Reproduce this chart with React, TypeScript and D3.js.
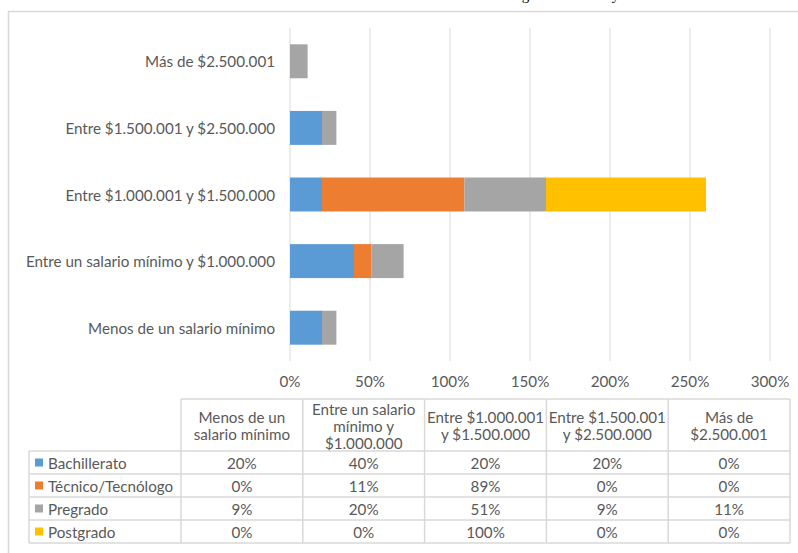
import React from 'react';
import * as d3 from 'd3';

const categories = [
  'Menos de un salario mínimo',
  'Entre un salario mínimo y $1.000.000',
  'Entre $1.000.001 y $1.500.000',
  'Entre $1.500.001 y $2.500.000',
  'Más de $2.500.001',
];
// header of the table, wrapped as in the picture
const headerLines = [
  ['Menos de un', 'salario mínimo'],
  ['Entre un salario', 'mínimo y', '$1.000.000'],
  ['Entre $1.000.001', 'y $1.500.000'],
  ['Entre $1.500.001', 'y $2.500.000'],
  ['Más de', '$2.500.001'],
];
const seriesNames = ['Bachillerato', 'Técnico/Tecnólogo', 'Pregrado', 'Postgrado'];
const seriesColors = ['#5B9BD5', '#ED7D31', '#A5A5A5', '#FFC000'];
const bachillerato = [20, 40, 20, 20, 0];
const tecnico = [0, 11, 89, 0, 0];
const pregrado = [9, 20, 51, 9, 11];
const postgrado = [0, 0, 100, 0, 0];
const xTicks = [0, 50, 100, 150, 200, 250, 300];

const font = 'Lato, "Open Sans", sans-serif';
const fs = 15.2;
const textColor = '#595959';
const lineColor = '#d9d9d9';

const App = () => {
  const series = [bachillerato, tecnico, pregrado, postgrado];
  const rows = categories.map((c, i) => {
    const r: any = { cat: c };
    seriesNames.forEach((s, j) => (r[s] = series[j][i]));
    return r;
  });
  const stacked = d3.stack().keys(seriesNames)(rows);

  const x = d3.scaleLinear().domain([0, 300]).range([290, 770]);
  const y = d3.scaleBand()
    .domain(categories.slice().reverse())
    .range([28, 361])
    .paddingInner(0.49)
    .paddingOuter(0.245);

  // table
  const col = d3.scaleBand().domain(categories).range([181, 790]);
  const tableTop = 399;
  const headerBottom = 451;
  const row = d3.scaleBand().domain(seriesNames).range([headerBottom, 543]);
  const legendLeft = 29;

  return (
    <svg width={798} height={553} style={{ position: 'absolute', left: 0, top: 0, background: '#fff' }}>
      <rect x={0} y={0} width={798} height={553} fill="#fff" />
      {/* title, cut off at the top of the picture */}
      <text x={455} y={0} fontFamily='"Liberation Serif", serif' fontSize={15} fill="#000">
        Nivel de ingreso mensual y nivel educativo
      </text>
      <rect x={8.5} y={11.5} width={800} height={560} fill="none" stroke={lineColor} strokeWidth={1.5} />

      {/* grid */}
      {xTicks.map(t => (
        <g key={t}>
          <line x1={x(t)} x2={x(t)} y1={28} y2={361} stroke={lineColor} strokeWidth={1} />
          <text x={x(t)} y={381} textAnchor="middle" dominantBaseline="central"
            fontFamily={font} fontSize={fs} fill={textColor}>{t}%</text>
        </g>
      ))}

      {/* bars */}
      {stacked.map((s, j) => (
        <g key={s.key} fill={seriesColors[j]}>
          {s.map((d: any) => (
            <rect key={d.data.cat} x={x(d[0])} y={y(d.data.cat)} width={x(d[1]) - x(d[0])} height={y.bandwidth()} />
          ))}
        </g>
      ))}

      {/* category labels */}
      {categories.map(c => (
        <text key={c} x={275} y={(y(c) as number) + y.bandwidth() / 2} textAnchor="end" dominantBaseline="central"
          fontFamily={font} fontSize={fs} fill={textColor}>{c}</text>
      ))}

      {/* data table */}
      <g stroke={lineColor} strokeWidth={1.5} fill="none">
        <line x1={181} x2={790} y1={tableTop} y2={tableTop} />
        <line x1={legendLeft} x2={790} y1={headerBottom} y2={headerBottom} />
        {seriesNames.map(s => (
          <line key={s} x1={legendLeft} x2={790} y1={(row(s) as number) + row.bandwidth()} y2={(row(s) as number) + row.bandwidth()} />
        ))}
        <line x1={legendLeft} x2={legendLeft} y1={headerBottom} y2={543} />
        {categories.map(c => (
          <line key={c} x1={col(c)} x2={col(c)} y1={tableTop} y2={543} />
        ))}
        <line x1={790} x2={790} y1={tableTop} y2={543} />
      </g>
      {categories.map((c, i) => (
        <text key={c} textAnchor="middle" fontFamily={font} fontSize={fs} fill={textColor}>
          {headerLines[i].map((l, k) => (
            <tspan key={k} x={(col(c) as number) + col.bandwidth() / 2}
              y={(tableTop + headerBottom) / 2 + (k - (headerLines[i].length - 1) / 2) * 17 + 0.5}
              dominantBaseline="central">{l}</tspan>
          ))}
        </text>
      ))}
      {seriesNames.map((s, j) => {
        const cy = (row(s) as number) + row.bandwidth() / 2;
        return (
          <g key={s}>
            <rect x={35} y={cy - 4} width={8} height={8} fill={seriesColors[j]} />
            <text x={48} y={cy} dominantBaseline="central" fontFamily={font} fontSize={fs} fill={textColor}>{s}</text>
            {categories.map((c, i) => (
              <text key={c} x={(col(c) as number) + col.bandwidth() / 2} y={cy} textAnchor="middle"
                dominantBaseline="central" fontFamily={font} fontSize={fs} fill={textColor}>{series[j][i]}%</text>
            ))}
          </g>
        );
      })}
    </svg>
  );
};

export default App;
